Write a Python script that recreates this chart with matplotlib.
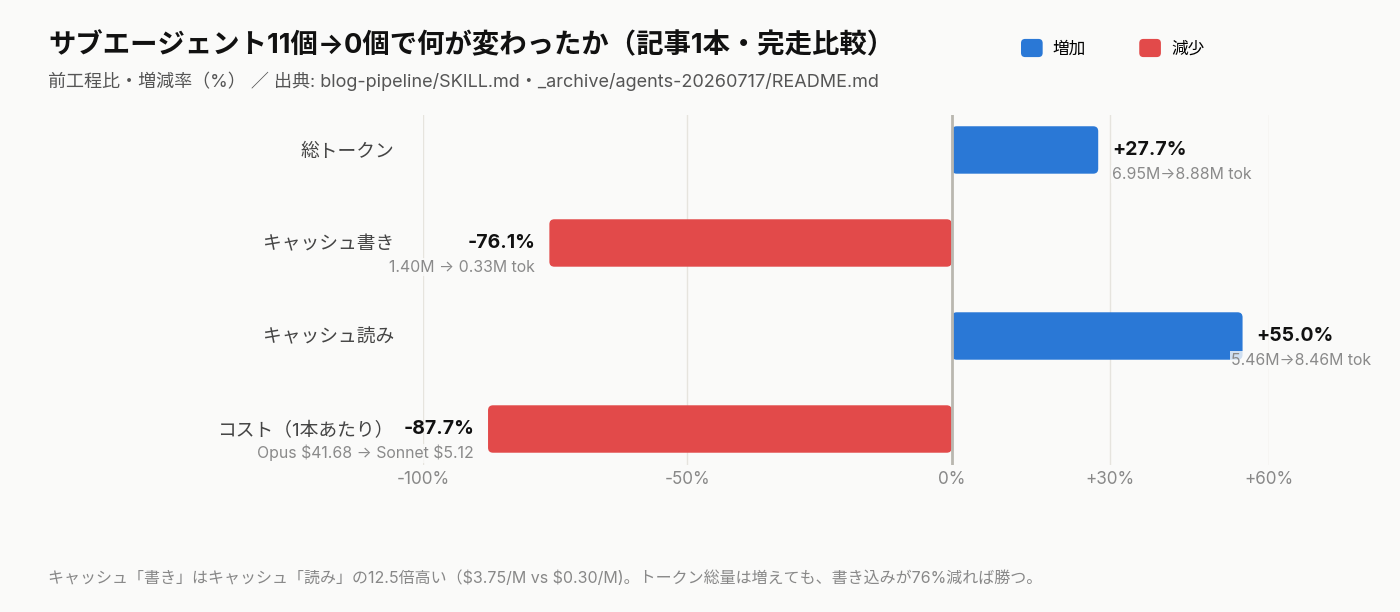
import matplotlib
matplotlib.use("Agg")
import matplotlib.pyplot as plt
from matplotlib.patches import FancyBboxPatch, Patch
from matplotlib.legend_handler import HandlerPatch

FONTS = ["Inter", "Noto Sans CJK JP", "DejaVu Sans"]
plt.rcParams["font.family"] = FONTS

# data
categories = ["総トークン", "キャッシュ書き", "キャッシュ読み", "コスト（1本あたり）"]
changes = [27.7, -76.1, 55.0, -87.7]
value_labels = ["+27.7%", "-76.1%", "+55.0%", "-87.7%"]
detail_labels = ["6.95M→8.88M tok", "1.40M → 0.33M tok", "5.46M→8.46M tok",
                 r"Opus \$41.68 → Sonnet \$5.12"]
tick_values = [-100, -50, 0, 30, 60]
tick_labels = ["-100%", "-50%", "0%", "+30%", "+60%"]

BG = "#fafaf9"
BLUE = "#2a78d6"
RED = "#e24a4a"
GRID = "#e6e4de"


class RoundHandler(HandlerPatch):
    # rounded square legend keys
    def create_artists(self, legend, orig_handle, xdescent, ydescent,
                       width, height, fontsize, trans):
        p = FancyBboxPatch((-xdescent, -ydescent), width, height,
                           boxstyle="round,pad=0,rounding_size=3",
                           facecolor=orig_handle.get_facecolor(),
                           edgecolor="none", transform=trans)
        return [p]


fig = plt.figure(figsize=(14, 6.12), dpi=100, facecolor=BG)
ax = fig.add_axes([423 / 1400, 1 - 465 / 612, 846 / 1400, 350 / 612])
ax.set_facecolor(BG)

ax.set_xlim(-100, 60)
ax.set_ylim(len(categories) - 1 + 0.387, -0.376)

# grid
for v in tick_values:
    if v == 0:
        ax.axvline(v, color="#b9b7b0", linewidth=2, zorder=3)
    else:
        ax.axvline(v, color=GRID, linewidth=1, zorder=0)

# rounded bars
bbox = ax.get_window_extent()
x_per_px = (60 - (-100)) / bbox.width
y_per_px = (len(categories) - 1 + 0.763) / bbox.height
bar_h = 0.51
for i, v in enumerate(changes):
    color = BLUE if v > 0 else RED
    x0 = min(0, v)
    patch = FancyBboxPatch((x0, i - bar_h / 2), abs(v), bar_h,
                           boxstyle=f"round,pad=0,rounding_size={5 * x_per_px}",
                           mutation_aspect=y_per_px / x_per_px,
                           facecolor=color, edgecolor="none", zorder=2)
    ax.add_patch(patch)

    off = 14 * x_per_px
    detail_kw = dict(va="center", fontsize=11.4, color="#8a8a8a", zorder=4, clip_on=False,
                     bbox=dict(facecolor=BG, edgecolor="none", pad=1, alpha=0.8))
    value_kw = dict(va="center", fontsize=14, fontweight="bold", color="#111111",
                    zorder=4, clip_on=False)
    if v > 0:
        ax.text(v + off, i + 0.0, value_labels[i], ha="left", **value_kw)
        # keep detail label inside the canvas
        if v > 40:
            ax.text(79.4, i + 0.26, detail_labels[i], ha="right", **detail_kw)
        else:
            ax.text(v + off, i + 0.26, detail_labels[i], ha="left", **detail_kw)
    else:
        ax.text(v - off, i + 0.0, value_labels[i], ha="right", **value_kw)
        ax.text(v - off, i + 0.26, detail_labels[i], ha="right", **detail_kw)

ax.set_yticks(range(len(categories)))
ax.set_yticklabels(categories, fontsize=13.5, color="#444444")
ax.tick_params(axis="y", length=0, pad=21)
ax.set_xticks(tick_values)
ax.set_xticklabels(tick_labels, fontsize=12.3, color="#888888")
ax.tick_params(axis="x", length=0, pad=4)
for s in ax.spines.values():
    s.set_visible(False)

fig.text(48 / 1400, 1 - 46 / 612, "サブエージェント11個→0個で何が変わったか（記事1本・完走比較）",
         fontsize=19.7, fontweight="bold", color="#111111", va="center", ha="left")
fig.text(48 / 1400, 1 - 81 / 612,
         "前工程比・増減率（%） ／ 出典: blog-pipeline/SKILL.md・_archive/agents-20260717/README.md",
         fontsize=13, color="#555555", va="center", ha="left")
fig.text(48 / 1400, 1 - 578 / 612,
         r"キャッシュ「書き」はキャッシュ「読み」の12.5倍高い（\$3.75/M vs \$0.30/M)。トークン総量は増えても、書き込みが76%減れば勝つ。",
         fontsize=11.5, color="#888888", va="center", ha="left")

handles = [Patch(facecolor=BLUE, label="増加"), Patch(facecolor=RED, label="減少")]
fig.legend(handles=handles, loc="center left", bbox_to_anchor=(1006 / 1400, 1 - 48 / 612),
           ncol=2, frameon=False, fontsize=12, handlelength=1.3, handleheight=1.3,
           handletextpad=0.6, columnspacing=3.2,
           handler_map={Patch: RoundHandler()})

fig.savefig("out.png", dpi=100, facecolor=BG)
